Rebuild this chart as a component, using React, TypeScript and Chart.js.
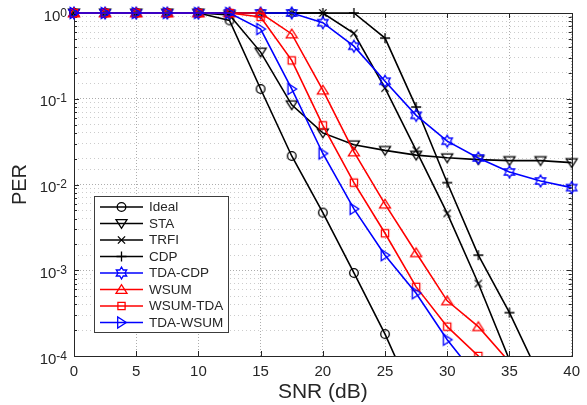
import React, { useEffect, useRef } from 'react';
import { Chart, registerables } from 'chart.js';

Chart.register(...registerables);

// ---------------- data ----------------
const snrDb = [0, 2.5, 5, 7.5, 10, 12.5, 15, 17.5, 20, 22.5, 25, 27.5, 30, 32.5, 35, 37.5, 40];

const perIdeal = [1, 1, 1, 1, 1, 0.82, 0.13, 0.0215, 0.0047, 0.00093, 0.00018, 0.000028, null, null, null, null, null];
const perSTA = [1, 1, 1, 1, 1, 0.95, 0.35, 0.085, 0.04, 0.029, 0.025, 0.022, 0.0205, 0.0195, 0.019, 0.019, 0.018];
const perTRFI = [1, 1, 1, 1, 1, 1, 1, 1, 1, 0.58, 0.133, 0.025, 0.0046, 0.0007, 0.00009, null, null];
const perCDP = [1, 1, 1, 1, 1, 1, 1, 1, 1, 1, 0.51, 0.08, 0.0105, 0.0015, 0.00032, 0.000055, null];
const perTdaCdp = [1, 1, 1, 1, 1, 1, 1, 1, 0.77, 0.41, 0.16, 0.064, 0.032, 0.0204, 0.014, 0.011, 0.0092];
const perWSUM = [1, 1, 1, 1, 1, 1, 1, 0.57, 0.126, 0.024, 0.0059, 0.0016, 0.00044, 0.00022, 0.000085, null, null];
const perWsumTda = [1, 1, 1, 1, 1, 1, 0.9, 0.28, 0.049, 0.0105, 0.0027, 0.00064, 0.00022, 0.0001, 0.00003, null, null];
const perTdaWsum = [1, 1, 1, 1, 1, 1, 0.65, 0.13, 0.023, 0.0052, 0.0015, 0.00054, 0.000155, 0.000054, null, null, null];

const seriesNames = ['Ideal', 'STA', 'TRFI', 'CDP', 'TDA-CDP', 'WSUM', 'WSUM-TDA', 'TDA-WSUM'];
const seriesValues = [perIdeal, perSTA, perTRFI, perCDP, perTdaCdp, perWSUM, perWsumTda, perTdaWsum];
const seriesColors = ['#000000', '#000000', '#000000', '#000000', '#0000ff', '#ff0000', '#ff0000', '#0000ff'];
type Shape = 'circle' | 'triDown' | 'triUp' | 'triRight' | 'x' | 'plus' | 'square' | 'hexagram';
const seriesShapes: Shape[] = ['circle', 'triDown', 'x', 'plus', 'hexagram', 'triUp', 'square', 'triRight'];

const xTickValues = [0, 5, 10, 15, 20, 25, 30, 35, 40];
const yDecades = [-4, -3, -2, -1, 0];

const FONT = '"Liberation Sans", Arial, Helvetica, sans-serif';
const TEXT = '#262626';

// ---------------- markers ----------------
function traceMarker(g: CanvasRenderingContext2D, shape: Shape, cx: number, cy: number) {
  g.beginPath();
  switch (shape) {
    case 'circle':
      g.arc(cx, cy, 4.3, 0, Math.PI * 2);
      break;
    case 'triDown':
      g.moveTo(cx - 5.5, cy - 3.8); g.lineTo(cx + 5.5, cy - 3.8); g.lineTo(cx, cy + 4.8); g.closePath();
      break;
    case 'triUp':
      g.moveTo(cx - 5.5, cy + 3.8); g.lineTo(cx + 5.5, cy + 3.8); g.lineTo(cx, cy - 4.8); g.closePath();
      break;
    case 'triRight':
      g.moveTo(cx - 3.8, cy - 5.5); g.lineTo(cx - 3.8, cy + 5.5); g.lineTo(cx + 4.8, cy); g.closePath();
      break;
    case 'x':
      g.moveTo(cx - 3.6, cy - 3.6); g.lineTo(cx + 3.6, cy + 3.6);
      g.moveTo(cx + 3.6, cy - 3.6); g.lineTo(cx - 3.6, cy + 3.6);
      break;
    case 'plus':
      g.moveTo(cx - 5, cy); g.lineTo(cx + 5, cy);
      g.moveTo(cx, cy - 5); g.lineTo(cx, cy + 5);
      break;
    case 'square':
      g.rect(cx - 3.6, cy - 3.6, 7.2, 7.2);
      break;
    case 'hexagram':
      for (let k = 0; k < 12; k++) {
        const r = k % 2 === 0 ? 6 : 3.46;
        const a = -Math.PI / 2 + (k * Math.PI) / 6;
        const px = cx + r * Math.cos(a);
        const py = cy + r * Math.sin(a);
        if (k === 0) g.moveTo(px, py); else g.lineTo(px, py);
      }
      g.closePath();
      break;
  }
}

function strokeMarker(g: CanvasRenderingContext2D, shape: Shape, color: string, cx: number, cy: number) {
  g.save();
  g.strokeStyle = color;
  g.lineWidth = 1.3;
  g.lineJoin = 'miter';
  g.setLineDash([]);
  traceMarker(g, shape, cx, cy);
  g.stroke();
  g.restore();
}

function makeMarker(shape: Shape, color: string): HTMLCanvasElement {
  const size = 16;
  const c = document.createElement('canvas');
  c.width = size;
  c.height = size;
  const g = c.getContext('2d') as CanvasRenderingContext2D;
  strokeMarker(g, shape, color, size / 2, size / 2);
  return c;
}

function isDecade(v: number) {
  const l = Math.log10(v);
  return Math.abs(l - Math.round(l)) < 1e-6;
}

// ---------------- plugins ----------------
const framePlugin = {
  id: 'matlabFrame',
  beforeDatasetsDraw(chart: any) {
    const { ctx, chartArea: a, scales } = chart;
    const xs = scales.x;
    const ys = scales.y;
    const al = (v: number) => Math.round(v) + 0.5;
    ctx.save();
    ctx.strokeStyle = TEXT;
    ctx.lineWidth = 1;
    ctx.setLineDash([]);
    ctx.beginPath();
    for (const t of xTickValues) {
      const px = al(xs.getPixelForValue(t));
      ctx.moveTo(px, a.bottom); ctx.lineTo(px, a.bottom - 5);
      ctx.moveTo(px, a.top); ctx.lineTo(px, a.top + 5);
    }
    for (const e of yDecades) {
      for (let m = 1; m <= 9; m++) {
        const v = m * Math.pow(10, e);
        if (v > 1.0000001) break;
        const py = al(ys.getPixelForValue(v));
        const len = m === 1 ? 5 : 3;
        ctx.moveTo(a.left, py); ctx.lineTo(a.left + len, py);
        ctx.moveTo(a.right, py); ctx.lineTo(a.right - len, py);
      }
    }
    ctx.stroke();
    ctx.strokeRect(al(a.left), al(a.top), Math.round(a.right) - Math.round(a.left), Math.round(a.bottom) - Math.round(a.top));
    ctx.restore();
  },
  afterDraw(chart: any) {
    const { ctx, chartArea: a, scales } = chart;
    const ys = scales.y;
    ctx.save();
    ctx.fillStyle = TEXT;
    ctx.textAlign = 'left';
    ctx.textBaseline = 'alphabetic';
    const rightEdge = a.left - 7;
    for (const e of yDecades) {
      const py = ys.getPixelForValue(Math.pow(10, e));
      const expStr = String(e);
      ctx.font = `12px ${FONT}`;
      const expW = ctx.measureText(expStr).width;
      ctx.font = `15px ${FONT}`;
      const baseW = ctx.measureText('10').width;
      ctx.fillText('10', rightEdge - expW - baseW, py + 7.5);
      ctx.font = `12px ${FONT}`;
      ctx.fillText(expStr, rightEdge - expW, py + 3.5);
    }
    ctx.restore();
  },
};

const legendPlugin = {
  id: 'matlabLegend',
  afterDatasetsDraw(chart: any) {
    const { ctx } = chart;
    const bx = 94.5, by = 196.5, bw = 134, bh = 136;
    ctx.save();
    ctx.fillStyle = '#ffffff';
    ctx.fillRect(bx, by, bw, bh);
    ctx.strokeStyle = '#3c3c3c';
    ctx.lineWidth = 1;
    ctx.setLineDash([]);
    ctx.strokeRect(bx, by, bw, bh);
    ctx.font = `13.5px ${FONT}`;
    ctx.textBaseline = 'middle';
    ctx.textAlign = 'left';
    seriesNames.forEach((name, i) => {
      const y = 207 + i * 16.5;
      ctx.strokeStyle = seriesColors[i];
      ctx.lineWidth = 1.6;
      ctx.beginPath();
      ctx.moveTo(100, y);
      ctx.lineTo(143, y);
      ctx.stroke();
      strokeMarker(ctx, seriesShapes[i], seriesColors[i], 121.5, y);
      ctx.fillStyle = TEXT;
      ctx.fillText(name, 149, y + 0.5);
    });
    ctx.restore();
  },
};

// ---------------- component ----------------
export default function App() {
  const canvasRef = useRef<HTMLCanvasElement | null>(null);

  useEffect(() => {
    const canvas = canvasRef.current;
    if (!canvas) return;

    const datasets = seriesNames.map((name, i) => ({
      label: name,
      data: snrDb.map((x, j) => ({ x, y: seriesValues[i][j] })),
      borderColor: seriesColors[i],
      backgroundColor: seriesColors[i],
      borderWidth: 1.6,
      pointStyle: makeMarker(seriesShapes[i], seriesColors[i]) as any,
      pointRadius: 5,
      pointHoverRadius: 5,
      tension: 0,
      spanGaps: false,
      order: -i,
      clip: { left: 10, top: 10, right: 10, bottom: 0 },
    }));

    const chart = new Chart(canvas, {
      type: 'line',
      data: { datasets: datasets as any },
      options: {
        animation: false,
        responsive: false,
        devicePixelRatio: 1,
        events: [],
        layout: { padding: { top: 13, right: 14, bottom: 0, left: 0 } },
        plugins: {
          legend: { display: false },
          tooltip: { enabled: false },
        },
        scales: {
          x: {
            type: 'linear',
            min: 0,
            max: 40,
            afterFit: (s: any) => { s.height = 49; },
            afterBuildTicks: (s: any) => { s.ticks = xTickValues.map((v) => ({ value: v })); },
            ticks: {
              stepSize: 5,
              autoSkip: false,
              maxRotation: 0,
              padding: 7,
              color: TEXT,
              font: { size: 15, family: FONT },
            },
            grid: { color: 'rgba(0,0,0,0.32)', lineWidth: 1, drawTicks: false },
            border: { display: false, dash: [1, 2] },
            title: {
              display: true,
              text: 'SNR (dB)',
              color: TEXT,
              font: { size: 21, family: FONT, lineHeight: 1 },
              padding: { top: 0, bottom: 2 },
            },
          },
          y: {
            type: 'logarithmic',
            min: 1e-4,
            max: 1,
            afterFit: (s: any) => { s.width = 74; },
            ticks: { display: false },
            grid: {
              color: (c: any) => (c.tick && isDecade(c.tick.value) ? 'rgba(0,0,0,0.32)' : 'rgba(0,0,0,0.2)'),
              lineWidth: 1,
              drawTicks: false,
            },
            border: {
              display: false,
              dash: (c: any) => (c.tick && isDecade(c.tick.value) ? [1, 2] : [1, 3]),
            },
            title: {
              display: true,
              text: 'PER',
              color: TEXT,
              font: { size: 20, family: FONT, lineHeight: 1 },
              padding: { top: 10, bottom: 0 },
            },
          },
        },
      },
      plugins: [framePlugin, legendPlugin],
    });

    return () => chart.destroy();
  }, []);

  return (
    <div style={{ position: 'fixed', left: 0, top: 0, width: 587, height: 405, background: '#ffffff' }}>
      <canvas ref={canvasRef} width={587} height={405} style={{ width: 587, height: 405, display: 'block' }} />
    </div>
  );
}
